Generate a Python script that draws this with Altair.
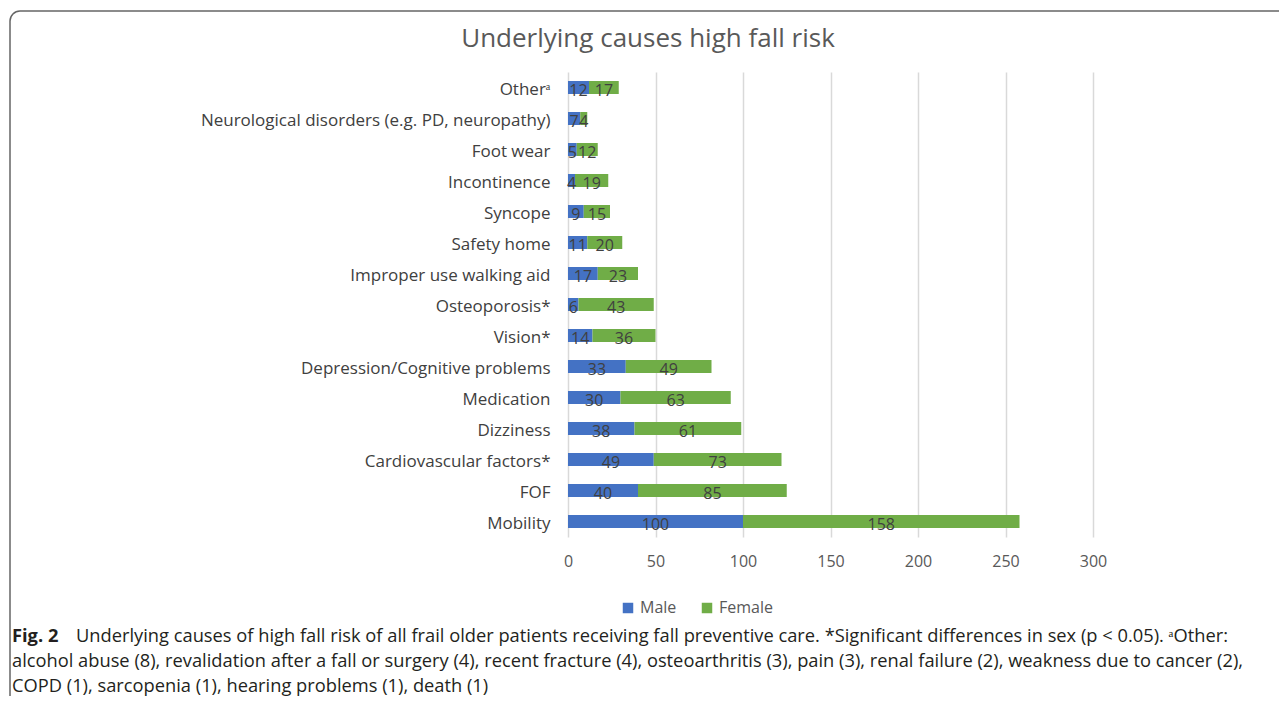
import altair as alt
import pandas as pd

# ---- data ----
causes = [
    "Otherᵃ",
    "Neurological disorders (e.g. PD, neuropathy)",
    "Foot wear",
    "Incontinence",
    "Syncope",
    "Safety home",
    "Improper use walking aid",
    "Osteoporosis*",
    "Vision*",
    "Depression/Cognitive problems",
    "Medication",
    "Dizziness",
    "Cardiovascular factors*",
    "FOF",
    "Mobility",
]
male = [12, 7, 5, 4, 9, 11, 17, 6, 14, 33, 30, 38, 49, 40, 100]
female = [17, 4, 12, 19, 15, 20, 23, 43, 36, 49, 63, 61, 73, 85, 158]
series = ["Male", "Female"]
x_ticks = [0, 50, 100, 150, 200, 250, 300]

title_text = "Underlying causes high fall risk"
caption_bold = "Fig. 2"
caption_line1 = ("Underlying causes of high fall risk of all frail older patients receiving fall "
                 "preventive care. *Significant differences in sex (p < 0.05). ᵃOther:")
caption_line2 = ("alcohol abuse (8), revalidation after a fall or surgery (4), recent fracture (4), "
                 "osteoarthritis (3), pain (3), renal failure (2), weakness due to cancer (2),")
caption_line3 = "COPD (1), sarcopenia (1), hearing problems (1), death (1)"

rows = []
for c, m, f in zip(causes, male, female):
    rows.append({"cause": c, "sex": "Male", "order": 0, "value": m})
    rows.append({"cause": c, "sex": "Female", "order": 1, "value": f})
df = pd.DataFrame(rows)

FONT = "Open Sans"
W, H = 525, 465

base = alt.Chart(df).transform_stack(
    stack="value", groupby=["cause"], as_=["v0", "v1"],
    sort=[alt.SortField("order", order="ascending")]
).transform_calculate(mid="(datum.v0 + datum.v1) / 2")

y_enc = alt.Y("cause:N", sort=causes, title=None,
              axis=alt.Axis(ticks=False, domain=False, labelPadding=18, labelOffset=2,
                            labelFontSize=17, labelColor="#404040", labelFont=FONT,
                            labelLimit=500))

bars = base.mark_bar(size=13).encode(
    x=alt.X("v0:Q", title=None, scale=alt.Scale(domain=[0, 300], nice=False),
            axis=alt.Axis(values=x_ticks, ticks=False, domain=False, grid=True,
                          gridColor="#d9d9d9", gridWidth=1.5, labelPadding=16,
                          labelFlush=False,
                          labelFontSize=16, labelColor="#595959", labelFont=FONT)),
    x2="v1:Q",
    y=y_enc,
    color=alt.Color("sex:N", scale=alt.Scale(domain=series, range=["#4472C4", "#70AD47"]),
                    legend=alt.Legend(title=None, orient="none", legendX=52, legendY=528,
                                      direction="horizontal", symbolType="square",
                                      symbolSize=110, symbolStrokeWidth=0,
                                      labelFontSize=16, labelColor="#595959",
                                      labelFont=FONT, columnPadding=22)),
)

labels = base.mark_text(baseline="middle", dy=3, fontSize=16, font=FONT,
                        color="#404040").encode(
    x="mid:Q",
    y=alt.Y("cause:N", sort=causes),
    text="value:Q",
)

one = pd.DataFrame({"k": [0]})
border = alt.Chart(one).mark_rect(filled=False, stroke="#666666", strokeWidth=1.5,
                                  cornerRadius=10, clip=False).encode(
    x=alt.value(-558), x2=alt.value(760), y=alt.value(-61), y2=alt.value(720))

def txt(text, x, y, size, color, bold=False, align="left"):
    return alt.Chart(one).mark_text(align=align, baseline="middle", font=FONT,
                                    fontSize=size, color=color,
                                    fontWeight="bold" if bold else "normal",
                                    clip=False).encode(
        x=alt.value(x), y=alt.value(y), text=alt.value(text))

title = txt(title_text, 80, -33, 26, "#595959", align="center")

caps = [
    txt(caption_bold, -556, 565, 18.3, "#231f20", bold=True),
    txt(caption_line1, -492, 565, 18.3, "#231f20"),
    txt(caption_line2, -556, 590, 18.3, "#231f20"),
    txt(caption_line3, -556, 615, 18.3, "#231f20"),
]

chart = alt.layer(border, bars, labels, title, *caps).properties(
    width=W, height=H,
    autosize=alt.AutoSizeParams(type="none"),
    padding={"left": 560, "top": 64, "right": 186, "bottom": 159},
).configure(background="white").configure_view(stroke="transparent", strokeWidth=0)

chart.save("out.html", embed_options={"renderer": "svg", "actions": False})
